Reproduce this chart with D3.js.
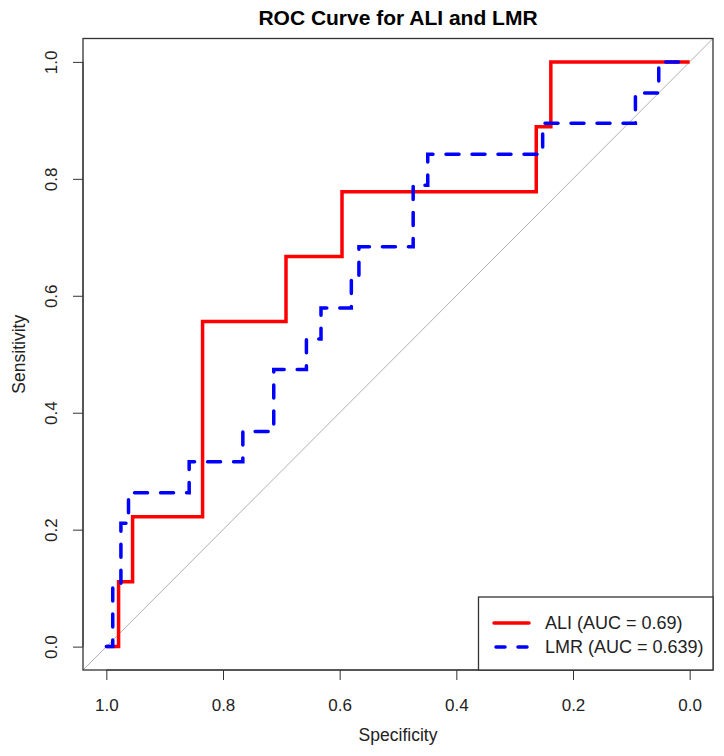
<!DOCTYPE html>
<html>
<head>
<meta charset="utf-8">
<script src="https://cdn.jsdelivr.net/npm/d3@7"></script>
<style>
  body { margin: 0; background: white; }
  text { font-family: "Liberation Sans", Arial, sans-serif; }
</style>
</head>
<body>
<svg id="chart"></svg>
<script>
// data (specificity, sensitivity at each step)
const aliSpec = [1.0, 0.979, 0.979, 0.955, 0.955, 0.835, 0.835, 0.692, 0.692, 0.596, 0.596, 0.263, 0.263, 0.238, 0.238, 0.0];
const aliSens = [0, 0, 0.111, 0.111, 0.222, 0.222, 0.556, 0.556, 0.667, 0.667, 0.778, 0.778, 0.889, 0.889, 1.0, 1.0];

const lmrSpec = [1.0, 0.989, 0.989, 0.975, 0.975, 0.962, 0.962, 0.858, 0.858, 0.766, 0.766, 0.713, 0.713, 0.657, 0.657, 0.632, 0.632, 0.580, 0.580, 0.567, 0.567, 0.474, 0.474, 0.449, 0.449, 0.252, 0.252, 0.093, 0.093, 0.053, 0.053, 0.0];
const lmrSens = [0, 0, 0.105, 0.105, 0.211, 0.211, 0.263, 0.263, 0.316, 0.316, 0.368, 0.368, 0.474, 0.474, 0.526, 0.526, 0.579, 0.579, 0.632, 0.632, 0.684, 0.684, 0.789, 0.789, 0.842, 0.842, 0.895, 0.895, 0.947, 0.947, 1.0, 1.0];

const tickValues = [1.0, 0.8, 0.6, 0.4, 0.2, 0.0];
const legendLabels = ["ALI (AUC = 0.69)", "LMR (AUC = 0.639)"];

const svgWidth = 724;
const svgHeight = 756;
const svg = d3.select("#chart")
  .attr("width", svgWidth)
  .attr("height", svgHeight);

// plot box (R extends the range by 4% each side)
const plotLeft = 83, plotRight = 713, plotTop = 38.5, plotBottom = 670;

const x = d3.scaleLinear().domain([1.04, -0.04]).range([plotLeft, plotRight]);
const y = d3.scaleLinear().domain([-0.04, 1.04]).range([plotBottom, plotTop]);

svg.append("clipPath").attr("id", "clip")
  .append("rect")
  .attr("x", plotLeft).attr("y", plotTop)
  .attr("width", plotRight - plotLeft).attr("height", plotBottom - plotTop);

// diagonal reference line
svg.append("line")
  .attr("clip-path", "url(#clip)")
  .attr("x1", x(1.04)).attr("y1", y(-0.04))
  .attr("x2", x(-0.04)).attr("y2", y(1.04))
  .attr("stroke", "#b0b0b0")
  .attr("stroke-width", 1);

const line = d3.line().x(d => x(d[0])).y(d => y(d[1]));

// ALI curve
svg.append("path")
  .datum(d3.zip(aliSpec, aliSens))
  .attr("d", line)
  .attr("fill", "none")
  .attr("stroke", "#ff0000")
  .attr("stroke-width", 3.5)
  .attr("stroke-linejoin", "miter");

// LMR curve
svg.append("path")
  .datum(d3.zip(lmrSpec, lmrSens))
  .attr("d", line)
  .attr("fill", "none")
  .attr("stroke", "#0000ff")
  .attr("stroke-width", 3.5)
  .attr("stroke-dasharray", "13 13")
  .attr("stroke-linecap", "round");

// box
svg.append("rect")
  .attr("x", plotLeft).attr("y", plotTop)
  .attr("width", plotRight - plotLeft).attr("height", plotBottom - plotTop)
  .attr("fill", "none")
  .attr("stroke", "#333")
  .attr("stroke-width", 1.3);

// x axis
const xAxis = svg.append("g")
  .attr("transform", `translate(0,${plotBottom})`)
  .call(d3.axisBottom(x).tickValues(tickValues).tickSize(10).tickFormat(d3.format(".1f")));
xAxis.select(".domain")
  .attr("d", `M${x(1)},0H${x(0)}`)
  .attr("stroke", "#333");
xAxis.selectAll(".tick line").attr("stroke", "#333");
xAxis.selectAll("text")
  .attr("y", 41).attr("dy", null)
  .attr("font-size", 17)
  .attr("fill", "#222")
  .style("font-family", "Liberation Sans, Arial, sans-serif");

// y axis
const yAxis = svg.append("g")
  .attr("transform", `translate(${plotLeft},0)`)
  .call(d3.axisLeft(y).tickValues(tickValues).tickSize(10).tickFormat(d3.format(".1f")));
yAxis.select(".domain")
  .attr("d", `M0,${y(0)}V${y(1)}`)
  .attr("stroke", "#333");
yAxis.selectAll(".tick line").attr("stroke", "#333");
yAxis.selectAll("text")
  .attr("x", 0).attr("y", 0).attr("dy", null)
  .attr("text-anchor", "middle")
  .attr("transform", "translate(-26,0) rotate(-90)")
  .attr("font-size", 17)
  .attr("fill", "#222")
  .style("font-family", "Liberation Sans, Arial, sans-serif");

// title and axis labels
svg.append("text")
  .attr("x", (plotLeft + plotRight) / 2)
  .attr("y", 25)
  .attr("text-anchor", "middle")
  .attr("font-size", 21)
  .attr("font-weight", "bold")
  .text("ROC Curve for ALI and LMR");

svg.append("text")
  .attr("x", (plotLeft + plotRight) / 2)
  .attr("y", 741)
  .attr("text-anchor", "middle")
  .attr("font-size", 17.5)
  .attr("fill", "#222")
  .text("Specificity");

svg.append("text")
  .attr("transform", `translate(25,${(plotTop + plotBottom) / 2}) rotate(-90)`)
  .attr("text-anchor", "middle")
  .attr("font-size", 17.5)
  .attr("fill", "#222")
  .text("Sensitivity");

// legend
const legendX = 478.5, legendY = 597;
svg.append("rect")
  .attr("x", legendX).attr("y", legendY)
  .attr("width", plotRight - legendX).attr("height", plotBottom - legendY)
  .attr("fill", "white")
  .attr("stroke", "#333")
  .attr("stroke-width", 1.3);

const legendColors = ["#ff0000", "#0000ff"];
const legendDash = [null, "9 13"];

const items = svg.selectAll(".legend-item")
  .data(legendLabels)
  .enter()
  .append("g")
  .attr("class", "legend-item")
  .attr("transform", (d, i) => `translate(${legendX}, ${legendY + 26 + i * 24})`);

items.append("line")
  .attr("x1", (d, i) => i ? 17.5 : 15.5).attr("x2", 50.5)
  .attr("y1", 0).attr("y2", 0)
  .attr("stroke", (d, i) => legendColors[i])
  .attr("stroke-width", 3.5)
  .attr("stroke-dasharray", (d, i) => legendDash[i])
  .attr("stroke-linecap", "round");

items.append("text")
  .attr("x", 66.5)
  .attr("dy", "0.35em")
  .attr("font-size", 18)
  .attr("fill", "#222")
  .text(d => d);
</script>
</body>
</html>
